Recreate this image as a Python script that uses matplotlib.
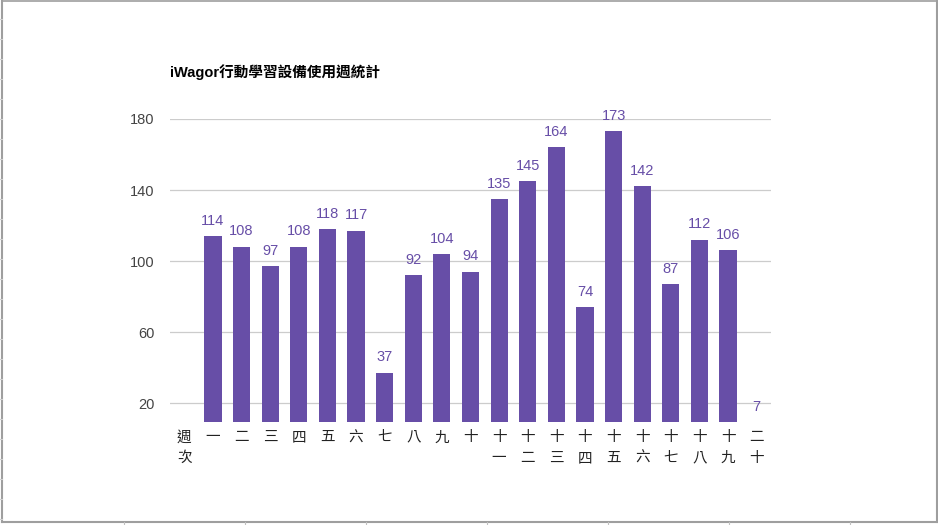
import matplotlib
matplotlib.use("Agg")
import matplotlib.pyplot as plt
from matplotlib.lines import Line2D

plt.rcParams['font.family'] = ['Liberation Sans', 'Noto Sans CJK TC', 'DejaVu Sans']

title = "iWagor行動學習設備使用週統計"
categories = ["週\n次", "一", "二", "三", "四", "五", "六", "七", "八", "九", "十",
              "十\n一", "十\n二", "十\n三", "十\n四", "十\n五", "十\n六", "十\n七",
              "十\n八", "十\n九", "二\n十"]
values = [None, 114, 108, 97, 108, 118, 117, 37, 92, 104, 94,
          135, 145, 164, 74, 173, 142, 87, 112, 106, 7]
yticks = [20, 60, 100, 140, 180]

W, H = 938, 525
fig = plt.figure(figsize=(W / 100, H / 100), dpi=100)

# axes placement in pixels
left, right, top, bottom = 170, 771, 119, 422
ax = fig.add_axes([left / W, 1 - bottom / H, (right - left) / W, (bottom - top) / H])

bar_color = "#674ea7"
ymin, ymax = 9.3, 180
xs = list(range(len(categories)))
for x, v in zip(xs, values):
    if v is None:
        continue
    ax.bar(x, v, width=0.6, color=bar_color, zorder=3)
    y_lab = max(v, ymin)
    ax.annotate(str(v), (x, y_lab), xytext=(0, 6), textcoords="offset points",
                ha="center", va="bottom", color=bar_color, fontsize=10.5,
                annotation_clip=False, clip_on=False)

ax.set_xlim(-0.5, len(categories) - 0.5)
ax.set_ylim(ymin, ymax)
ax.set_yticks(yticks)
ax.set_yticklabels([str(t) for t in yticks], color="#444444", fontsize=10.5)
ax.set_xticks(xs)
ax.set_xticklabels(categories, color="#222222", fontsize=10.5, linespacing=1.6, va="top")
ax.tick_params(axis="both", length=0)
ax.tick_params(axis="y", pad=11)
ax.tick_params(axis="x", pad=6)
ax.grid(axis="y", color="#cccccc", linewidth=0.9, zorder=0)
for s in ax.spines.values():
    s.set_visible(False)

fig.text(170 / W, 1 - 72 / H, title, fontsize=10.5, fontweight="bold",
         color="#000000", ha="left", va="center")

# spreadsheet frame decorations
def px_line(x0, y0, x1, y1, color, lw):
    fig.add_artist(Line2D([x0 / W, x1 / W], [1 - y0 / H, 1 - y1 / H],
                          color=color, linewidth=lw, transform=fig.transFigure))

frame = "#9e9e9e"
px_line(2, 1, 937, 1, frame, 1.2)
px_line(2, 1, 2, 522, frame, 1.5)
px_line(937, 1, 937, 522, frame, 1.5)
px_line(2, 522, 937, 522, frame, 1.5)
for y in range(19, 522, 20):
    px_line(0, y, 2, y, "#d0d0d0", 0.8)
for x in [124, 245, 366, 487, 608, 729, 850]:
    px_line(x, 522, x, 525, "#c0c0c0", 0.8)

fig.savefig("out.png", dpi=100)
